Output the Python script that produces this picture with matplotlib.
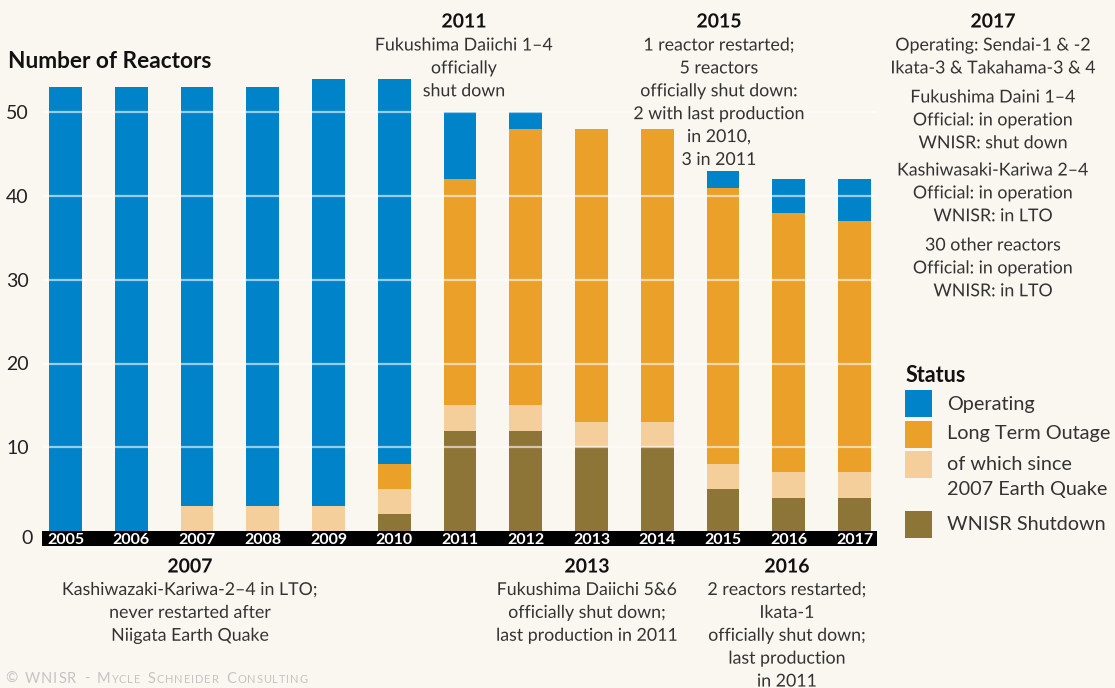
import matplotlib.pyplot as plt
import matplotlib.patheffects as pe
from matplotlib.patches import Rectangle
from matplotlib.offsetbox import TextArea, HPacker, AnchoredOffsetbox, DrawingArea
import numpy as np

years = [2005, 2006, 2007, 2008, 2009, 2010, 2011, 2012, 2013, 2014, 2015, 2016, 2017]
shutdown = [0, 0, 0, 0, 0, 2, 12, 12, 10, 10, 5, 4, 4]
lto_total = [0, 0, 3, 3, 3, 6, 30, 36, 38, 38, 36, 34, 33]
lto_since_2007 = [0, 0, 3, 3, 3, 3, 3, 3, 3, 3, 3, 3, 3]
operating = [53, 53, 50, 50, 51, 46, 8, 2, 0, 0, 2, 4, 5]

bg = '#FAF7F0'
c_oper = '#0083C9'
c_lto = '#EBA02A'
c_2007 = '#F5CF9B'
c_shut = '#8C7537'
txt = '#333333'

plt.rcParams['font.family'] = ['Lato', 'DejaVu Sans']

W, H = 1115, 688
def fx(p):
    return p / W
def fy(p):
    return 1 - p / H

fig = plt.figure(figsize=(W / 100, H / 100), dpi=100, facecolor=bg)
ax = fig.add_axes([fx(42), 157 / H, 835 / W, 502.5 / H])
ax.set_facecolor(bg)

x = np.arange(len(years))
lto_other = np.array(lto_total) - np.array(lto_since_2007)
stack = [(shutdown, c_shut), (lto_since_2007, c_2007), (lto_other, c_lto), (operating, c_oper)]
bottom = np.zeros(len(years))
for vals, col in stack:
    ax.bar(x, vals, 0.5, bottom=bottom, color=col, linewidth=0, zorder=2)
    bottom += np.array(vals)

ax.set_xlim(-0.357, 12.342)
ax.set_ylim(0, 60)
for s in ax.spines.values():
    s.set_visible(False)

# white grid over the bars
for yv in range(10, 51, 10):
    ax.axhline(yv, color='white', lw=1.6, alpha=0.6, zorder=3)

ax.set_yticks(range(10, 51, 10))
ax.tick_params(axis='y', length=0, pad=9.5, labelsize=14, labelcolor='#222222')
ax.annotate('0', xy=(0, 0), xycoords=('axes fraction', 'data'), xytext=(-9, -7),
            textcoords='offset pixels', ha='right', va='center', fontsize=14, color='#222222')

ax.set_xticks(x)
ax.set_xticklabels(years, color='white', fontweight='bold', fontsize=11.5)
ax.tick_params(axis='x', length=0, pad=1.2)
ax.add_patch(Rectangle((0, -15 / 502.5), 1, 15 / 502.5, transform=ax.transAxes,
                       facecolor='black', edgecolor='none', clip_on=False, zorder=1))

fig.text(fx(8), fy(61), 'Number of Reactors', fontsize=16.3, fontweight='bold',
         color='#111111', va='center', ha='left')

halo = [pe.withStroke(linewidth=3, foreground=bg)]

def note(xc, yhead, head, body_blocks):
    if head:
        fig.text(fx(xc), fy(yhead), head, ha='center', va='center', fontsize=14,
                 fontweight='bold', color='#111111', path_effects=halo)
    for ytop, body in body_blocks:
        fig.text(fx(xc), fy(ytop), body, ha='center', va='top', fontsize=12.8,
                 color=txt, linespacing=1.53, path_effects=halo)

note(464, 22, '2011', [(37.5, 'Fukushima Daiichi 1\u20134\nofficially\nshut down')])
note(719, 22, '2015', [(37.5, '1 reactor restarted;\n5 reactors\nofficially shut down:\n2 with last production\nin 2010,\n3 in 2011')])
note(993, 22, '2017', [(37.5, 'Operating: Sendai-1 & -2\nIkata-3 & Takahama-3 & 4'),
                       (89.5, 'Fukushima Daini 1\u20134\nOfficial: in operation\nWNISR: shut down'),
                       (162.5, 'Kashiwasaki-Kariwa 2\u20134\nOfficial: in operation\nWNISR: in LTO'),
                       (237.5, '30 other reactors\nOfficial: in operation\nWNISR: in LTO')])
note(190, 567, '2007', [(582, 'Kashiwazaki-Kariwa-2\u20134 in LTO;\nnever restarted after\nNiigata Earth Quake')])
note(587, 567, '2013', [(582, 'Fukushima Daiichi 5&6\nofficially shut down;\nlast production in 2011')])
note(787, 567, '2016', [(582, '2 reactors restarted;\nIkata-1\nofficially shut down;\nlast production\nin 2011')])

# legend
fig.text(fx(906), fy(375), 'Status', fontsize=15.5, fontweight='bold', color='#111111',
         va='center', ha='left')
leg_items = [('Operating', c_oper, 390, 404),
             ('Long Term Outage', c_lto, 421, 434),
             ('of which since', c_2007, 451, 465),
             ('2007 Earth Quake', None, None, 489),
             ('WNISR Shutdown', c_shut, 511, 524)]
for label, col, ytop, yc in leg_items:
    if col is not None:
        fig.add_artist(Rectangle((fx(905), fy(ytop + 27)), 27 / W, 27 / H,
                                 transform=fig.transFigure, facecolor=col, edgecolor='none'))
    fig.text(fx(947), fy(yc), label, fontsize=14.3, color=txt, va='center', ha='left')

# small-caps credit line with letter spacing
credit = '\u00a9 WNISR - Mycle Schneider Consulting'
boxes = []
for ch in credit:
    if ch == ' ':
        boxes.append(DrawingArea(4, 1))
    elif ch.islower():
        boxes.append(TextArea(ch.upper(), textprops=dict(fontsize=8, color='#C4C4C4')))
    else:
        boxes.append(TextArea(ch, textprops=dict(fontsize=10.5, color='#C4C4C4')))
pack = HPacker(children=boxes, align='baseline', pad=0, sep=0.7)
ab = AnchoredOffsetbox(loc='lower left', child=pack, pad=0, borderpad=0, frameon=False,
                       bbox_to_anchor=(fx(5), 2 / H), bbox_transform=fig.transFigure)
fig.add_artist(ab)

fig.savefig('out.png', dpi=100, facecolor=bg)
